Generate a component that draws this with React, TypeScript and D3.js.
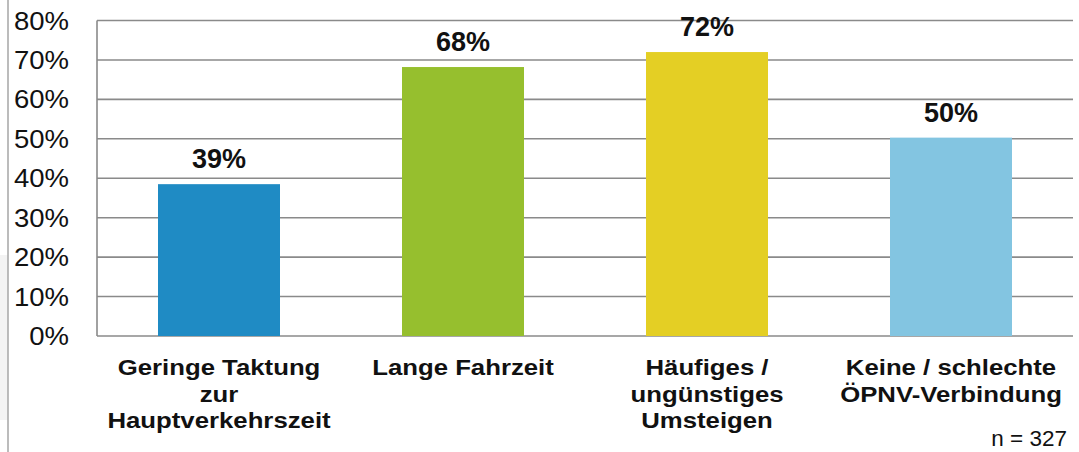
import React, { useEffect } from "react";
import * as d3 from "d3";

const categories: string[][] = [
  ["Geringe Taktung", "zur", "Hauptverkehrszeit"],
  ["Lange Fahrzeit"],
  ["Häufiges /", "ungünstiges", "Umsteigen"],
  ["Keine / schlechte", "ÖPNV-Verbindung"],
];
const values: number[] = [38.5, 68.2, 72.0, 50.3];
const valueLabels: string[] = ["39%", "68%", "72%", "50%"];
const colors: string[] = ["#1F8BC4", "#96BF2E", "#E4CF24", "#83C5E1"];
const ticks: number[] = [0, 10, 20, 30, 40, 50, 60, 70, 80];
const note = "n = 327";

const W = 1079;
const H = 452;
const FONT = "'Liberation Sans', Arial, sans-serif";

export default function App() {
  useEffect(() => {
    document.body.style.margin = "0";
  }, []);

  const left = 97;
  const right = 1073;
  const top = 20.5;
  const bottom = 336;

  const x = d3
    .scaleBand<number>()
    .domain(d3.range(categories.length))
    .range([left, right])
    .paddingInner(0.5)
    .paddingOuter(0.25);
  const y = d3.scaleLinear().domain([0, 80]).range([bottom, top]);
  const grid = "#8a8a8a";

  return (
    <svg
      width={W}
      height={H}
      style={{ position: "absolute", left: 0, top: 0, background: "#fff" }}
      fontFamily={FONT}
    >
      <rect x={0} y={255} width={8} height={165} fill="#f3f3f3" />
      <line x1={8} x2={8} y1={0} y2={H} stroke="#a6a6a6" strokeWidth={1.5} />
      {ticks.map((t) => (
        <g key={t}>
          <line
            x1={left}
            x2={right}
            y1={y(t)}
            y2={y(t)}
            stroke={grid}
            strokeWidth={1.6}
          />
          <text
            transform={`translate(69,${y(t) + 9}) scale(1.1,1)`}
            textAnchor="end"
            fontSize={25}
            fill="#111"
          >
            {t}%
          </text>
        </g>
      ))}
      <line x1={left} x2={left} y1={top} y2={bottom} stroke={grid} strokeWidth={1.6} />
      {values.map((v, i) => {
        const bx = x(i)!;
        const bw = x.bandwidth();
        const cx = bx + bw / 2;
        return (
          <g key={i}>
            <rect x={bx} y={y(v)} width={bw} height={bottom - y(v)} fill={colors[i]} />
            <text
              x={cx}
              y={y(v) - 16}
              textAnchor="middle"
              fontSize={27}
              fontWeight="bold"
              fill="#111"
            >
              {valueLabels[i]}
            </text>
            {categories[i].map((line, j) => (
              <text
                key={j}
                transform={`translate(${cx},${375 + j * 26.5}) scale(1.12,1)`}
                textAnchor="middle"
                fontSize={23}
                fontWeight="bold"
                fill="#111"
              >
                {line}
              </text>
            ))}
          </g>
        );
      })}
      <text x={1067} y={446} textAnchor="end" fontSize={22.5} fill="#111">
        {note}
      </text>
    </svg>
  );
}
